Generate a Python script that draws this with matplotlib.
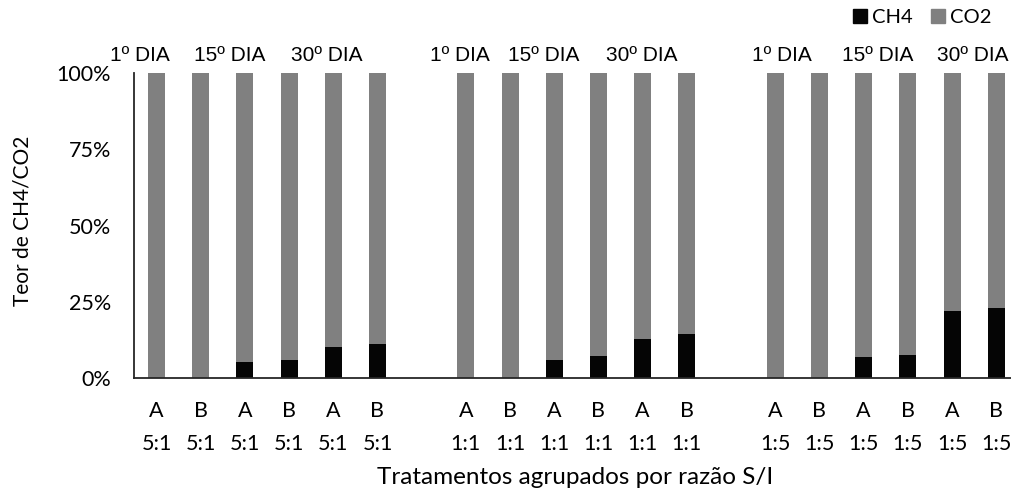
import numpy as np
import matplotlib.pyplot as plt
from matplotlib.patches import Patch
from matplotlib.ticker import PercentFormatter

plt.rcParams['font.family'] = ['Lato', 'DejaVu Sans']

# 3 groups (S/I ratio) x 6 bars (A/B at day 1, 15, 30)
ratios = ['5:1', '1:1', '1:5']
samples = ['A', 'B', 'A', 'B', 'A', 'B']
ch4 = {
    '5:1': [0.0, 0.0, 5.2, 5.8, 10.1, 11.3],
    '1:1': [0.0, 0.0, 5.8, 7.1, 12.8, 14.3],
    '1:5': [0.0, 0.0, 6.9, 7.5, 21.9, 22.9],
}
day_labels = ['1º DIA', '15º DIA', '30º DIA']
# where the day text boxes sit, in category units
day_label_x = [-0.37, 1.66, 3.86, 6.87, 8.77, 10.97, 14.14, 16.31, 18.47]

BLACK = '#050505'
GREY = '#808080'

fig = plt.figure(figsize=(10.12, 4.91), dpi=100)
ax = fig.add_axes([0.1328, 0.2301, 0.8735, 0.6212])

pos, ticklabels, ch4_vals = [], [], []
for g, r in enumerate(ratios):
    for i, s in enumerate(samples):
        pos.append(g * 7 + i)
        ticklabels.append(s + '\n' + r)
        ch4_vals.append(ch4[r][i])
pos = np.array(pos)
ch4_vals = np.array(ch4_vals)
co2_vals = 100 - ch4_vals

w = 0.385
ax.bar(pos, ch4_vals, w, color=BLACK, label='CH4')
ax.bar(pos, co2_vals, w, bottom=ch4_vals, color=GREY, label='CO2')

ax.set_xlim(-0.5, 19.5)
ax.set_ylim(0, 100)
ax.set_yticks([0, 25, 50, 75, 100])
ax.yaxis.set_major_formatter(PercentFormatter(decimals=0))
ax.set_xticks(pos)
ax.set_xticklabels(ticklabels, linespacing=1.8)
ax.tick_params(axis='both', length=0, labelsize=15.5, colors='#000000')
ax.tick_params(axis='y', pad=17)
ax.tick_params(axis='x', pad=16.5)

for sp in ['top', 'right']:
    ax.spines[sp].set_visible(False)
for sp in ['left', 'bottom']:
    ax.spines[sp].set_color('#262626')
    ax.spines[sp].set_linewidth(1.3)

for k, x in enumerate(day_label_x):
    ax.text(x, 1.058, day_labels[k % 3], transform=ax.get_xaxis_transform(),
            ha='center', va='center', fontsize=15,
            family=['Liberation Sans', 'DejaVu Sans'])

fig.text(0.0224, 0.55, 'Teor de CH4/CO2', rotation=90, ha='center',
         va='center', fontsize=15)
fig.text(0.568, 0.028, 'Tratamentos agrupados por razão S/I', ha='center',
         va='center', fontsize=17.5)

handles = [Patch(color=BLACK, label='CH4'), Patch(color=GREY, label='CO2')]
fig.legend(handles=handles, loc='center right', bbox_to_anchor=(0.988, 0.965),
           ncol=2, frameon=False, fontsize=14.5, handlelength=0.7,
           handleheight=0.7, handletextpad=0.25, columnspacing=0.9,
           borderaxespad=0)

fig.savefig('out.png', dpi=100)
